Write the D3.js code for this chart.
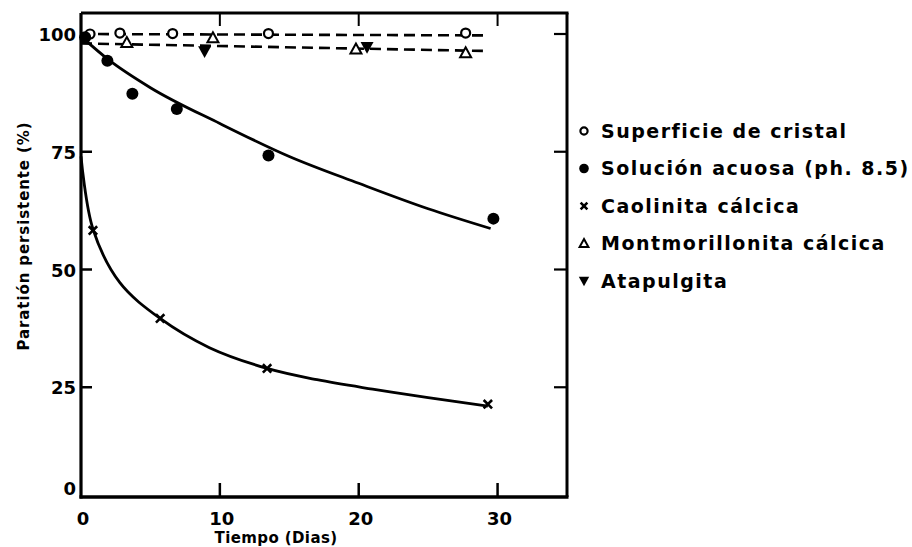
<!DOCTYPE html>
<html><head><meta charset="utf-8">
<script src="https://cdn.jsdelivr.net/npm/d3@7"></script>
<style>
body{margin:0;background:#fff;}
svg{display:block;}
text{font-family:"DejaVu Sans","Lato",sans-serif;font-weight:700;fill:#000;}
</style></head>
<body>
<svg id="c" width="912" height="547"></svg>
<script>
// ---- data ----
const xTicks = [0, 10, 20, 30];
const yTicks = [0, 25, 50, 75, 100];
const seriesNames = ["Superficie de cristal", "Solución acuosa (ph. 8.5)", "Caolinita cálcica", "Montmorillonita cálcica", "Atapulgita"];
const seriesSymbols = ["openCircle", "filledCircle", "cross", "openTriangle", "filledTriangleDown"];

const cristalPts = [[0.65, 100], [2.8, 100.2], [6.6, 100.1], [13.5, 100.1], [27.7, 100.2]];
const acuosaPts = [[0.3, 99.3], [1.9, 94.3], [3.7, 87.3], [6.9, 84.1], [13.5, 74.2], [29.7, 60.8]];
const caolinitaPts = [[0.86, 58.3], [5.7, 39.6], [13.4, 29.0], [29.3, 21.4]];
const montmoPts = [[3.3, 98.2], [9.5, 99.2], [19.8, 96.8], [27.7, 96.0]];
const atapulgitaPts = [[8.9, 96.3], [20.6, 97.2]];

const cristalLine = [[0, 100], [29.1, 99.7]];
const mixLine = [[0, 98.0], [29.1, 96.4]];
const acuosaCurve = [[0, 99.5], [2, 94.5], [5, 88.6], [10, 81], [15, 74], [20, 68.3], [25, 62.9], [29.5, 58.7]];
const caolinitaCurve = [[0, 74], [0.86, 58.6], [2.8, 47.2], [5.7, 39.6], [9.25, 33.4], [13.4, 29.0], [17, 26.6], [21, 24.6], [25, 22.8], [29.3, 21]];

// ---- layout ----
const svg = d3.select("#c");
const x = d3.scaleLinear().domain([0, 35]).range([81, 567]);
const y = d3.scaleLinear().domain([0, 100]).range([505, 34]);
const pLeft = x(0), pRight = x(35), pBottom = 497, pTop = 13;

const frame = svg.append("g").attr("stroke", "#000").attr("fill", "none");
frame.append("line").attr("x1", pLeft).attr("x2", pLeft).attr("y1", pTop).attr("y2", pBottom + 1.5).attr("stroke-width", 3.2);
frame.append("line").attr("x1", pLeft - 1.5).attr("x2", pRight + 1.5).attr("y1", pBottom).attr("y2", pBottom).attr("stroke-width", 3.4);
frame.append("line").attr("x1", pLeft).attr("x2", pRight + 1.5).attr("y1", pTop).attr("y2", pTop).attr("stroke-width", 2.8);
frame.append("line").attr("x1", pRight).attr("x2", pRight).attr("y1", pTop).attr("y2", pBottom).attr("stroke-width", 3);

// x ticks (inward on bottom and top)
xTicks.filter(d => d > 0).forEach(d => {
  frame.append("line").attr("x1", x(d)).attr("x2", x(d)).attr("y1", pBottom).attr("y2", pBottom - 14).attr("stroke-width", 2.5);
  frame.append("line").attr("x1", x(d)).attr("x2", x(d)).attr("y1", pTop).attr("y2", pTop + 13).attr("stroke-width", 2);
});
// y ticks (inward on left and right)
yTicks.filter(d => d > 0).forEach(d => {
  frame.append("line").attr("x1", pLeft).attr("x2", pLeft + 11).attr("y1", y(d)).attr("y2", y(d)).attr("stroke-width", 2.5);
  frame.append("line").attr("x1", pRight).attr("x2", pRight - 13).attr("y1", y(d)).attr("y2", y(d)).attr("stroke-width", 2.2);
});

// tick labels
svg.append("g").selectAll("text").data(xTicks).join("text")
  .attr("x", d => x(d) + 2).attr("y", 525).attr("text-anchor", "middle")
  .attr("font-size", 18).text(d => d);
svg.append("g").selectAll("text").data(yTicks).join("text")
  .attr("x", 76).attr("y", d => d === 0 ? pBottom - 2 : y(d) + 7).attr("text-anchor", "end")
  .attr("font-size", 18).text(d => d);

// axis titles
svg.append("text").attr("x", 276).attr("y", 543).attr("text-anchor", "middle")
  .attr("font-size", 15).attr("letter-spacing", 0.4).text("Tiempo (Dias)");
svg.append("text").attr("transform", "translate(29,236) rotate(-90)").attr("text-anchor", "middle")
  .attr("font-size", 15).attr("letter-spacing", 0.9).text("Paratión persistente (%)");

// lines
const line = d3.line().x(d => x(d[0])).y(d => y(d[1]));
const smooth = d3.line().x(d => x(d[0])).y(d => y(d[1])).curve(d3.curveMonotoneX);
const smoothC = d3.line().x(d => x(d[0])).y(d => y(d[1])).curve(d3.curveCatmullRom.alpha(0.5));
const lines = svg.append("g").attr("fill", "none").attr("stroke", "#000");
lines.append("path").attr("d", line(cristalLine)).attr("stroke-width", 2.6).attr("stroke-dasharray", "11,6");
lines.append("path").attr("d", line(mixLine)).attr("stroke-width", 2.6).attr("stroke-dasharray", "11,6");
lines.append("path").attr("d", smooth(acuosaCurve)).attr("stroke-width", 2.8);
lines.append("path").attr("d", smoothC(caolinitaCurve)).attr("stroke-width", 2.8);

// markers
function drawSymbol(g, type, cx, cy, s) {
  if (type === "openCircle") {
    g.append("circle").attr("cx", cx).attr("cy", cy).attr("r", 4.5 * s).attr("fill", "#fff").attr("stroke", "#000").attr("stroke-width", 2.2);
  } else if (type === "filledCircle") {
    g.append("circle").attr("cx", cx).attr("cy", cy).attr("r", 6 * s).attr("fill", "#000");
  } else if (type === "cross") {
    const h = 4.2 * s;
    g.append("path").attr("d", `M${cx - h},${cy - h}L${cx + h},${cy + h}M${cx - h},${cy + h}L${cx + h},${cy - h}`)
      .attr("stroke", "#000").attr("stroke-width", 2.6).attr("fill", "none");
  } else if (type === "openTriangle") {
    const h = 5.5 * s;
    g.append("path").attr("d", `M${cx},${cy - h}L${cx + h},${cy + h * 0.8}L${cx - h},${cy + h * 0.8}Z`)
      .attr("fill", "#fff").attr("stroke", "#000").attr("stroke-width", 2);
  } else {
    const h = 6.5 * s;
    g.append("path").attr("d", `M${cx - h},${cy - h * 0.8}L${cx + h},${cy - h * 0.8}L${cx},${cy + h}Z`).attr("fill", "#000");
  }
}
const mk = svg.append("g");
const allPts = [cristalPts, acuosaPts, caolinitaPts, montmoPts, atapulgitaPts];
allPts.forEach((pts, i) => pts.forEach(p => drawSymbol(mk, seriesSymbols[i], x(p[0]), y(p[1]), 1)));

// legend
const lg = svg.append("g");
seriesNames.forEach((name, i) => {
  const ly = 131 + i * 37.5;
  drawSymbol(lg, seriesSymbols[i], 584, ly, 0.8);
  lg.append("text").attr("x", 601).attr("y", ly + 6.5).attr("font-size", 19).attr("letter-spacing", 1.5).text(name);
});
</script>
</body></html>
